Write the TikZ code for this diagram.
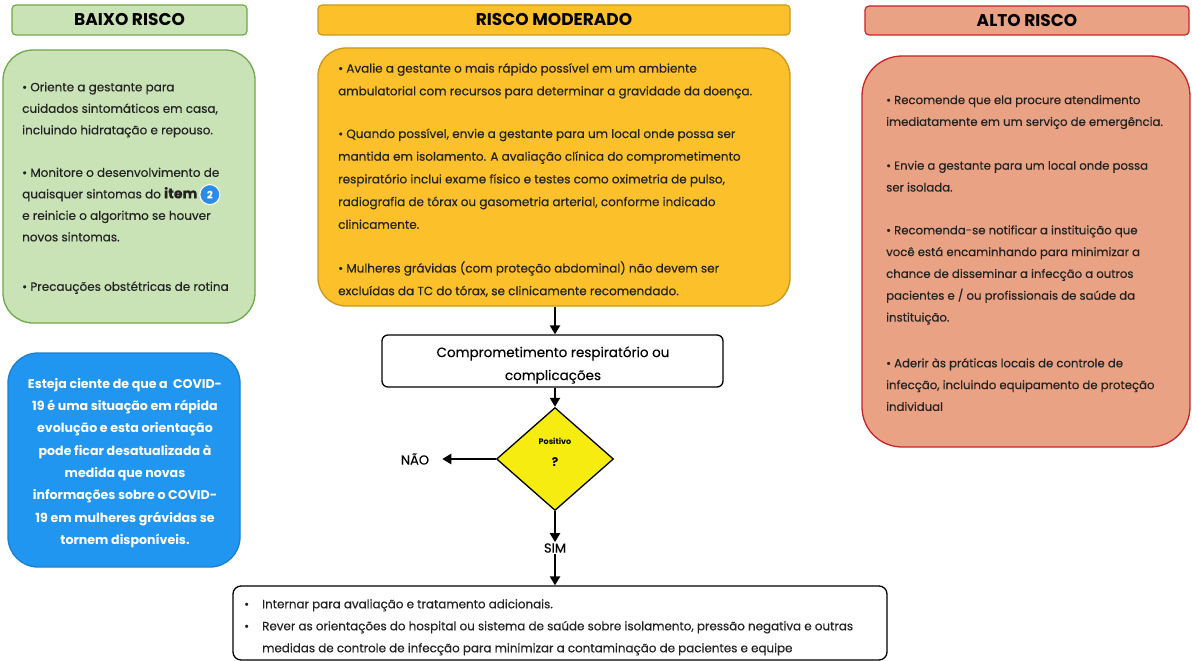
\documentclass[tikz,border=0pt]{standalone}
\usepackage{fontspec}
\setmainfont{Poppins}
\newfontfamily\medfont{Poppins}[FakeBold=0.3]
\usetikzlibrary{shapes.geometric,arrows.meta}
\definecolor{gfill}{HTML}{C9E2B6}
\definecolor{gline}{HTML}{6FA84A}
\definecolor{yfill}{HTML}{FCC02A}
\definecolor{yline}{HTML}{C9981E}
\definecolor{rfill}{HTML}{E9A283}
\definecolor{rline}{HTML}{C8242A}
\definecolor{bfill}{HTML}{2196F0}
\definecolor{bline}{HTML}{1B7FD0}
\definecolor{dfill}{HTML}{F7EC0F}
\definecolor{txt}{HTML}{222222}
\definecolor{badgeblue}{HTML}{2A8CE6}
\tikzset{
  hdr/.style={draw, line width=1.2pt, rounded corners=4pt, inner sep=0pt, font=\bfseries\fontsize{17}{17}\selectfont},
  bigbox/.style={draw, line width=1.3pt, inner sep=0pt},
  body/.style={inner sep=0pt, align=left, text=txt, font=\medfont\fontsize{12}{21.5}\selectfont},
  arr/.style={line width=2.2pt, -{Triangle[length=9pt,width=10pt]}},
  lab/.style={inner sep=1pt, font=\medfont\fontsize{13}{13}\selectfont},
  badgestyle/.style={circle, anchor=center, align=center, fill=badgeblue, draw=white, line width=1pt, text=white, inner sep=0pt, minimum size=20pt, font=\bfseries\fontsize{10}{10}\selectfont}
}
\begin{document}
\begin{tikzpicture}[x=1pt,y=-1pt]
\useasboundingbox (0,0) rectangle (1192,661);
% headers
\node[hdr, fill=gfill, draw=gline, minimum width=235pt, minimum height=30pt] (h1) at (129.5,20) {BAIXO RISCO};
\node[hdr, fill=yfill, draw=yline, minimum width=472pt, minimum height=30pt] (h2) at (554,20) {RISCO MODERADO};
\node[hdr, fill=rfill, draw=rline, minimum width=324pt, minimum height=29pt] (h3) at (1027,20.5) {ALTO RISCO};
% big boxes
\node[bigbox, fill=gfill, draw=gline, rounded corners=30pt, minimum width=252pt, minimum height=273pt] (gbox) at (129,186.5) {};
\node[bigbox, fill=yfill, draw=yline, rounded corners=28pt, minimum width=472pt, minimum height=258pt] (ybox) at (554,177) {};
\node[bigbox, fill=rfill, draw=rline, rounded corners=40pt, minimum width=328pt, minimum height=391pt] (rbox) at (1026,251.5) {};
\node[bigbox, fill=bfill, draw=bline, rounded corners=30pt, minimum width=232pt, minimum height=214pt] (bbox) at (124,460) {};
% texts
\node[body, anchor=north west] (gtext) at (22,82) {%
• Oriente a gestante para\\
cuidados sintomáticos em casa,\\
incluindo hidratação e repouso.\\[21pt]
• Monitore o desenvolvimento de\\
quaisquer sintomas do {\bfseries\fontsize{14}{14}\selectfont item}\,\tikz[baseline={(badge.base)}]\node[badgestyle] (badge) {2};\\
e reinicie o algoritmo se houver\\
novos sintomas.\\[28pt]
• Precauções obstétricas de rotina};
\node[body, anchor=north west, font=\medfont\fontsize{12}{22.7}\selectfont] (ytext) at (338,63) {%
• Avalie a gestante o mais rápido possível em um ambiente\\
ambulatorial com recursos para determinar a gravidade da doença.\\[20pt]
• Quando possível, envie a gestante para um local onde possa ser\\
mantida em isolamento. A avaliação clínica do comprometimento\\
respiratório inclui exame físico e testes como oximetria de pulso,\\
radiografia de tórax ou gasometria arterial, conforme indicado\\
clinicamente.\\[21pt]
• Mulheres grávidas (com proteção abdominal) não devem ser\\
excluídas da TC do tórax, se clinicamente recomendado.};
\node[body, anchor=north west, font=\medfont\fontsize{11.7}{21.8}\selectfont] (rtext) at (886,95) {%
• Recomende que ela procure atendimento\\
imediatamente em um serviço de emergência.\\[22pt]
• Envie a gestante para um local onde possa\\
ser isolada.\\[21pt]
• Recomenda-se notificar a instituição que\\
você está encaminhando para minimizar a\\
chance de disseminar a infecção a outros\\
pacientes e / ou profissionais de saúde da\\
instituição.\\[24pt]
• Aderir às práticas locais de controle de\\
infecção, incluindo equipamento de proteção\\
individual};
\node[body, align=center, text=white, font=\bfseries\fontsize{12.6}{22.3}\selectfont, anchor=north] (btext) at (125,378) {%
Esteja ciente de que a \ COVID-\\
19 é uma situação em rápida\\
evolução e esta orientação\\
pode ficar desatualizada à\\
medida que novas\\
informações sobre o COVID-\\
19 em mulheres grávidas se\\
tornem disponíveis.};
% flow
\node[draw, line width=1.3pt, fill=white, rounded corners=6pt, minimum width=341pt, minimum height=52pt, inner sep=0pt] (comp) at (552.5,361) {};
\node[inner sep=0pt, align=center, font=\medfont\fontsize{13.5}{23}\selectfont] (comptext) at (553,365) {Comprometimento respiratório ou\\complicações};
\node[diamond, draw, line width=1.3pt, fill=dfill, minimum width=117pt, minimum height=103pt, inner sep=0pt] (diam) at (555,459) {};
\node[inner sep=0pt, align=center, font=\bfseries\fontsize{8}{22}\selectfont] (dtext) at (555,452) {Positivo\\{\fontsize{12}{12}\selectfont ?}};
\node[lab] (nao) at (415,459) {NÃO};
\node[lab] (sim) at (555,548) {SIM};
\node[draw, line width=1.3pt, fill=white, rounded corners=8pt, minimum width=654pt, minimum height=74pt, inner sep=0pt] (bot) at (560,623) {};
\node[inner sep=0pt, align=left, anchor=north west, text=txt, font=\medfont\fontsize{11.9}{22}\selectfont] (bottext) at (244,599) {%
\makebox[18pt][l]{•}Internar para avaliação e tratamento adicionais.\\
\makebox[18pt][l]{•}Rever as orientações do hospital ou sistema de saúde sobre isolamento, pressão negativa e outras\\
\hspace*{18pt}medidas de controle de infecção para minimizar a contaminação de pacientes e equipe};
% arrows
\draw[arr] (diam.north |- ybox.south) -- (diam.north |- comp.north);
\draw[arr] (diam.north |- comp.south) -- (diam.north);
\draw[arr, shorten >=12pt] (diam.west) -- (nao.east);
\draw[arr] (diam.south) -- (sim.north);
\draw[arr] (sim.south) -- (diam.south |- bot.north);
\end{tikzpicture}
\end{document}
